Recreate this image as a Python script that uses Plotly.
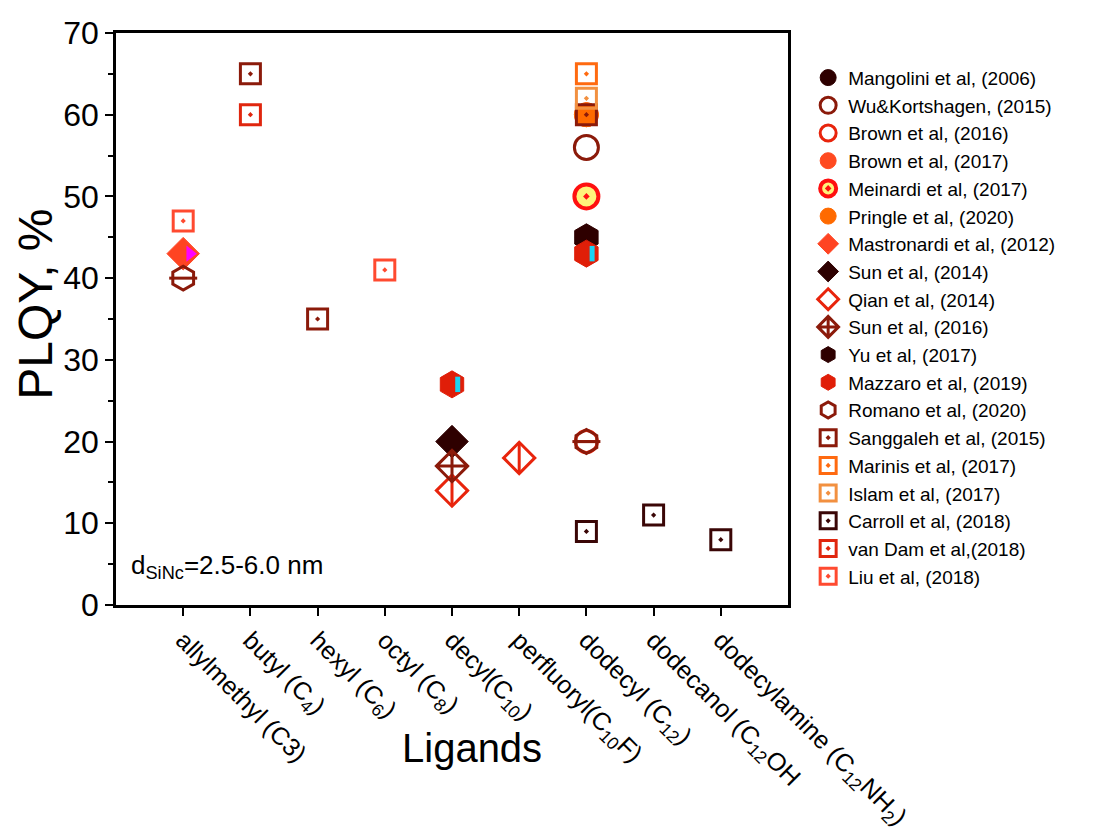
import plotly.graph_objects as go

# ---------------- data ----------------
categories = ["allylmethyl (C3)", "butyl (C<sub>4</sub>)", "hexyl (C<sub>6</sub>)", "octyl (C<sub>8</sub>)",
              "decyl(C<sub>10</sub>)", "perfluoryl(C<sub>10</sub>F)", "dodecyl (C<sub>12</sub>)",
              "dodecanol (C<sub>12</sub>OH", "dodecylamine (C<sub>12</sub>NH<sub>2</sub>)"]
cat_index = list(range(len(categories)))

mangolini_x = [6];        mangolini_y = [45]
wu_x = [6];               wu_y = [56]
brown16_x = [6];          brown16_y = [20]
brown17_x = [6];          brown17_y = [60]
meinardi_x = [6];         meinardi_y = [50]
pringle_x = [6];          pringle_y = [60]
mastronardi_x = [0];      mastronardi_y = [43]
sun14_x = [4];            sun14_y = [20]
qian_x = [4, 5];          qian_y = [14, 18]
sun16_x = [4];            sun16_y = [17]
yu_x = [6];               yu_y = [45]
mazzaro_x = [4, 6];       mazzaro_y = [27, 43]
romano_x = [0, 6];        romano_y = [40, 20]
sanggaleh_x = [1, 2, 6];  sanggaleh_y = [65, 35, 60]
marinis_x = [6];          marinis_y = [65]
islam_x = [6];            islam_y = [62]
carroll_x = [6, 7, 8];    carroll_y = [9, 11, 8]
vandam_x = [1];           vandam_y = [60]
liu_x = [0, 3];           liu_y = [47, 41]

y_ticks = [0, 10, 20, 30, 40, 50, 60, 70]

DARK = "#2e0000"
DRED = "#8b1a0a"
RED = "#e8240c"
FONT = "Liberation Sans, Arial, sans-serif"

fig = go.Figure()

def add(name, xs, ys, symbol, size, color, fill=None, lw=2.5, show=True, group=None):
    fig.add_trace(go.Scatter(
        x=xs, y=ys, mode="markers", name=name, showlegend=show,
        legendgroup=group or name,
        marker=dict(symbol=symbol, size=size,
                    color=fill if fill is not None else color,
                    line=dict(color=color, width=lw)),
        hoverinfo="skip"))

add("Mangolini et al, (2006)", mangolini_x, mangolini_y, "circle", 22, DARK, DARK, 1)
add("Wu&Kortshagen, (2015)", wu_x, wu_y, "circle-open", 24, DRED, None, 3)
add("Brown et al, (2016)", brown16_x, brown16_y, "circle-open", 22, RED, None, 3)
add("Brown et al, (2016)", brown16_x, brown16_y, "line-ew-open", 16, RED, None, 3, show=False)
add("Brown et al, (2017)", brown17_x, brown17_y, "circle", 24, "#ff4a20", "#ff4a20", 1)
add("Meinardi et al, (2017)", meinardi_x, meinardi_y, "circle-dot", 24, "#ff1010", "#fff27a", 4)
add("Pringle et al, (2020)", pringle_x, pringle_y, "circle", 24, "#ff6a00", "#ff6a00", 1)
add("Mastronardi et al, (2012)", mastronardi_x, mastronardi_y, "diamond", 25, "#ff4422", "#ff4422", 1)
fig.add_trace(go.Scatter(x=[v + 0.1 for v in mastronardi_x], y=mastronardi_y, mode="markers",
                         showlegend=False, legendgroup="Mastronardi et al, (2012)", hoverinfo="skip",
                         marker=dict(symbol="triangle-right", size=14, color="#ff00ff",
                                     line=dict(width=0))))
add("Sun et al, (2014)", sun14_x, sun14_y, "diamond", 25, DARK, DARK, 1)
add("Qian et al, (2014)", qian_x, qian_y, "diamond-open", 24, RED, None, 3)
add("Qian et al, (2014)", qian_x, qian_y, "line-ns-open", 22, RED, None, 3, show=False)
add("Sun et al, (2016)", sun16_x, sun16_y, "diamond-cross-open", 24, DRED, None, 3)
add("Yu et al, (2017)", yu_x, yu_y, "hexagon", 27, DARK, DARK, 1)
add("Mazzaro et al, (2019)", mazzaro_x, mazzaro_y, "hexagon", 27, "#e01e08", "#e01e08", 1)
fig.add_trace(go.Scatter(x=[v + 0.085 for v in mazzaro_x], y=mazzaro_y, mode="markers",
                         showlegend=False, legendgroup="Mazzaro et al, (2019)", hoverinfo="skip",
                         marker=dict(symbol="line-ns-open", size=11,
                                     line=dict(color="#20f0f0", width=5))))
add("Romano et al, (2020)", romano_x, romano_y, "hexagon-open", 24, DRED, None, 3)
add("Romano et al, (2020)", romano_x, romano_y, "line-ew-open", 20, DRED, None, 3, show=False)
add("Sanggaleh et al, (2015)", sanggaleh_x, sanggaleh_y, "square-open-dot", 20, DRED, None, 3)
add("Marinis et al, (2017)", marinis_x, marinis_y, "square-open-dot", 20, "#ff6a10", None, 3)
add("Islam et al, (2017)", islam_x, islam_y, "square-open-dot", 20, "#f29040", None, 3)
add("Carroll et al, (2018)", carroll_x, carroll_y, "square-open-dot", 20, "#3a0606", None, 3)
add("van Dam et al,(2018)", vandam_x, vandam_y, "square-open-dot", 20, "#e0260e", None, 3)
add("Liu et al, (2018)", liu_x, liu_y, "square-open-dot", 20, "#ff4a30", None, 3)

fig.add_annotation(text="d<sub>SiNc</sub>=2.5-6.0 nm", x=0.02, y=0.035, xref="paper", yref="paper",
                   xanchor="left", yanchor="bottom", showarrow=False,
                   font=dict(size=26, color="black", family=FONT))
fig.add_annotation(text="Ligands", x=0.53, y=-0.25, xref="paper", yref="paper",
                   xanchor="center", yanchor="middle", showarrow=False,
                   font=dict(size=40, color="black", family=FONT))
fig.add_annotation(text="PLQY, %", x=-0.119, y=0.525, xref="paper", yref="paper",
                   xanchor="center", yanchor="middle", showarrow=False, textangle=-90,
                   font=dict(size=48, color="black", family=FONT))

fig.update_layout(
    width=1113, height=837,
    margin=dict(l=116, r=325, t=33, b=232, autoexpand=False),
    paper_bgcolor="white", plot_bgcolor="white",
    font=dict(family=FONT, color="black"),
    legend=dict(x=1.03, y=0.955, xanchor="left", yanchor="top",
                font=dict(size=19), tracegroupgap=0, itemsizing="trace",
                bgcolor="rgba(0,0,0,0)"),
    xaxis=dict(range=[-1, 9], tickvals=cat_index, ticktext=categories, tickangle=45,
               ticks="outside", ticklen=8, tickwidth=2, tickcolor="black", automargin=False,
               showline=True, linewidth=2.5, linecolor="black", mirror=True,
               showgrid=False, zeroline=False, tickfont=dict(size=25)),
    yaxis=dict(range=[0, 70], tickvals=y_ticks, ticks="outside", ticklen=8, tickwidth=2,
               tickcolor="black", showline=True, linewidth=2.5, linecolor="black", mirror=True,
               showgrid=False, zeroline=False, tickfont=dict(size=32), automargin=False,
               minor=dict(dtick=5, ticks="outside", ticklen=5, tickwidth=2, tickcolor="black")),
)

fig.write_html("out.html")
